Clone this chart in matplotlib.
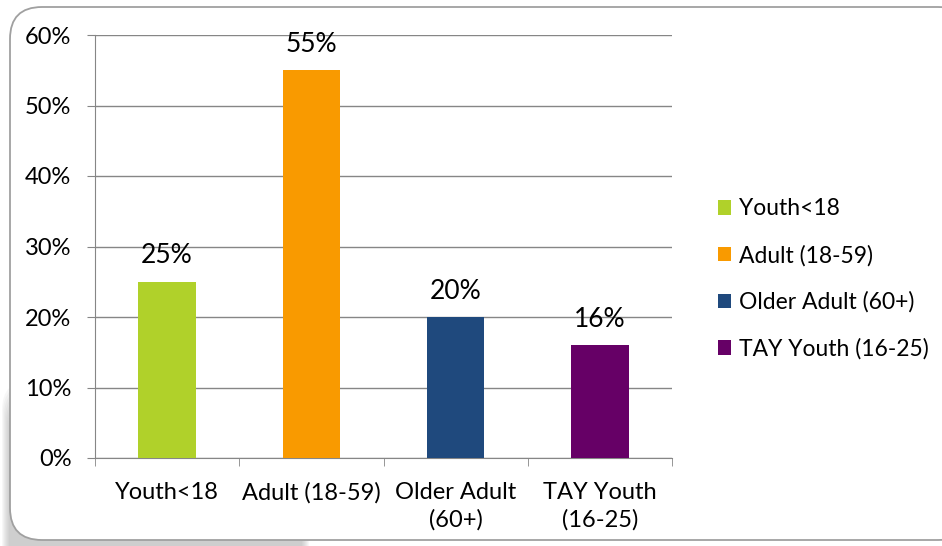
import matplotlib.pyplot as plt
from matplotlib.patches import FancyBboxPatch
from matplotlib.ticker import PercentFormatter

categories = ['Youth<18', 'Adult (18-59)', 'Older Adult (60+)', 'TAY Youth (16-25)']
tick_labels = ['Youth<18', 'Adult (18-59)', 'Older Adult\n(60+)', 'TAY Youth\n(16-25)']
values = [25, 55, 20, 16]
colors = ['#B0D12A', '#F99A00', '#1F497D', '#660066']

plt.rcParams['font.family'] = ['Lato', 'DejaVu Sans']

W, H = 942, 546
fig = plt.figure(figsize=(W / 100, H / 100), dpi=100)

# background axis in pixel units for the rounded frame and its shadow
bg = fig.add_axes([0, 0, 1, 1])
bg.set_xlim(0, W)
bg.set_ylim(H, 0)
bg.axis('off')
for k in range(8):
    bg.add_patch(FancyBboxPatch((10 - 8 + k, 380 + k * 3), 300, 200,
                                boxstyle='round,pad=0,rounding_size=30',
                                facecolor='#9a9a9a', edgecolor='none',
                                alpha=0.07))
bg.add_patch(FancyBboxPatch((10, 7), 960, 533,
                            boxstyle='round,pad=0,rounding_size=32',
                            facecolor='white', edgecolor='#a0a0a0',
                            linewidth=1.3))

ax = fig.add_axes([95 / W, 1 - 458 / H, 577 / W, 423 / H])
ax.set_facecolor('none')
x = range(len(categories))
bars = ax.bar(x, values, width=0.4, color=colors, label=categories, zorder=3)

for i, v in enumerate(values):
    ax.text(i, v + 1.9, f'{v}%', ha='center', va='bottom', fontsize=19)

ax.set_xlim(-0.5, 3.5)
ax.set_ylim(0, 60)
ax.set_yticks(range(0, 61, 10))
ax.yaxis.set_major_formatter(PercentFormatter(decimals=0))
ax.set_xticks(x)
ax.set_xticklabels(tick_labels, fontsize=17, linespacing=1.35)
ax.set_xticks([-0.5, 0.5, 1.5, 2.5, 3.5], minor=True)
ax.tick_params(axis='x', which='major', length=0, pad=17)
ax.tick_params(axis='x', which='minor', length=6, color='#868686')
ax.tick_params(axis='y', length=6, color='#868686', labelsize=17, pad=11)
ax.grid(axis='y', color='#868686', linewidth=1, zorder=0)
for s in ['top', 'right']:
    ax.spines[s].set_visible(False)
for s in ['left', 'bottom']:
    ax.spines[s].set_color('#868686')

fig.legend(handles=bars, labels=categories, loc='center left',
           bbox_to_anchor=(697 / W, 1 - 279 / H), frameon=False,
           fontsize=16.5, handlelength=0.6, handleheight=0.6,
           handletextpad=0.35, labelspacing=1.1)

fig.savefig('out.png', dpi=100)
